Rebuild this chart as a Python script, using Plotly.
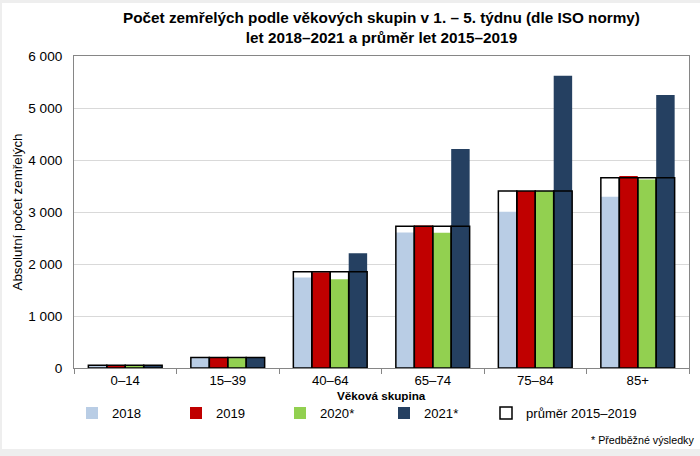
import plotly.graph_objects as go

categories = ["0–14", "15–39", "40–64", "65–74", "75–84", "85+"]
v2018 = [45, 190, 1740, 2605, 3005, 3295]
v2019 = [50, 195, 1840, 2740, 3405, 3690]
v2020 = [45, 190, 1705, 2600, 3405, 3625]
v2021 = [50, 195, 2205, 4210, 5620, 5250]
avg = [52, 200, 1850, 2725, 3405, 3660]
series_names = ["2018", "2019", "2020*", "2021*"]
avg_name = "průměr 2015–2019"
x_title = "Věková skupina"
y_title = "Absolutní počet zemřelých"
y_ticks = [0, 1000, 2000, 3000, 4000, 5000, 6000]
y_ticktext = ["0", "1 000", "2 000", "3 000", "4 000", "5 000", "6 000"]

colors = ["#b9cde5", "#c00000", "#92d050", "#254061"]
FONT = "Liberation Sans, Arial, sans-serif"

W = 0.18
offsets = [-0.36, -0.18, 0.0, 0.18]

fig = go.Figure()
for name, vals, col, off in zip(series_names, [v2018, v2019, v2020, v2021], colors, offsets):
    fig.add_trace(go.Bar(
        x=categories, y=vals, name=name, width=W, offset=off,
        marker=dict(color=col, line=dict(width=0)), legend="legend",
    ))

# average: outlined boxes at the same positions as the four yearly bars
fig.add_trace(go.Bar(
    x=categories * 4, y=avg * 4, name=avg_name,
    width=[W] * (4 * len(categories)),
    offset=[o for o in offsets for _ in categories],
    marker=dict(color="rgba(255,255,255,0)", line=dict(color="#000000", width=1.5)),
    legend="legend2",
))

PL, PR, PT, PB = 74, 689, 56, 368
def px(x):
    return (x - PL) / (PR - PL)
def py(y):
    return (PB - y) / (PB - PT)

legend_common = dict(
    orientation="h", xref="container", yref="container",
    yanchor="top", y=1 - 398 / 456, xanchor="left",
    bgcolor="rgba(0,0,0,0)", font=dict(size=13.1), itemwidth=30,
)

fig.update_layout(
    width=700, height=456,
    margin=dict(l=PL, r=700 - PR, t=PT, b=456 - PB, pad=0, autoexpand=False),
    barmode="overlay",
    paper_bgcolor="#eeeeee",
    plot_bgcolor="rgba(0,0,0,0)",
    font=dict(family=FONT, size=13, color="#000000"),
    title=dict(
        text="<b>Počet zemřelých podle věkových skupin v 1. – 5. týdnu (dle ISO normy)<br>let 2018–2021 a průměr let 2015–2019</b>",
        x=0.5, xref="paper", xanchor="center",
        y=1 - 23 / 456, yref="container", yanchor="middle",
        font=dict(family=FONT, size=15.3, color="#000000"),
    ),
    xaxis=dict(
        type="category", categoryorder="array", categoryarray=categories,
        range=[-0.5, 5.5], automargin=False,
        tickson="boundaries", ticks="outside", ticklen=5, tickcolor="#868686",
        showline=True, linecolor="#868686", linewidth=1, mirror=True,
        showgrid=False, ticklabelstandoff=0,
        tickfont=dict(size=13.2),
    ),
    yaxis=dict(
        range=[0, 6000], tickvals=y_ticks, ticktext=y_ticktext, automargin=False,
        showgrid=True, gridcolor="#d9d9d9", gridwidth=1,
        showline=True, linecolor="#868686", linewidth=1, mirror=True,
        ticks="", ticklabelstandoff=8, tickfont=dict(size=13.6),
        zeroline=False,
        title=dict(text=y_title, font=dict(size=13.4), standoff=2),
    ),
    legend=dict(legend_common, x=72 / 700, entrywidth=59, entrywidthmode="pixels",
                traceorder="normal"),
    legend2=dict(legend_common, x=486 / 700),
    showlegend=True,
)

fig.add_shape(
    type="rect", xref="paper", yref="paper",
    x0=px(2), x1=px(702), y0=py(449), y1=py(3),
    fillcolor="#ffffff", line=dict(width=0), layer="below",
)

# x-axis title
fig.add_annotation(
    text=f"<b>{x_title}</b>", xref="paper", yref="paper",
    x=0.5, y=py(395), xanchor="center", yanchor="middle",
    showarrow=False, font=dict(size=11.7, color="#000000"),
)

fig.add_annotation(
    text="* Předběžné výsledky", xref="paper", yref="paper",
    x=px(696), y=py(440), xanchor="right", yanchor="middle",
    showarrow=False, font=dict(size=10.7, color="#000000"),
)

fig.write_html("out.html", config={"displayModeBar": False},
               post_script="document.body.style.margin='0';")
